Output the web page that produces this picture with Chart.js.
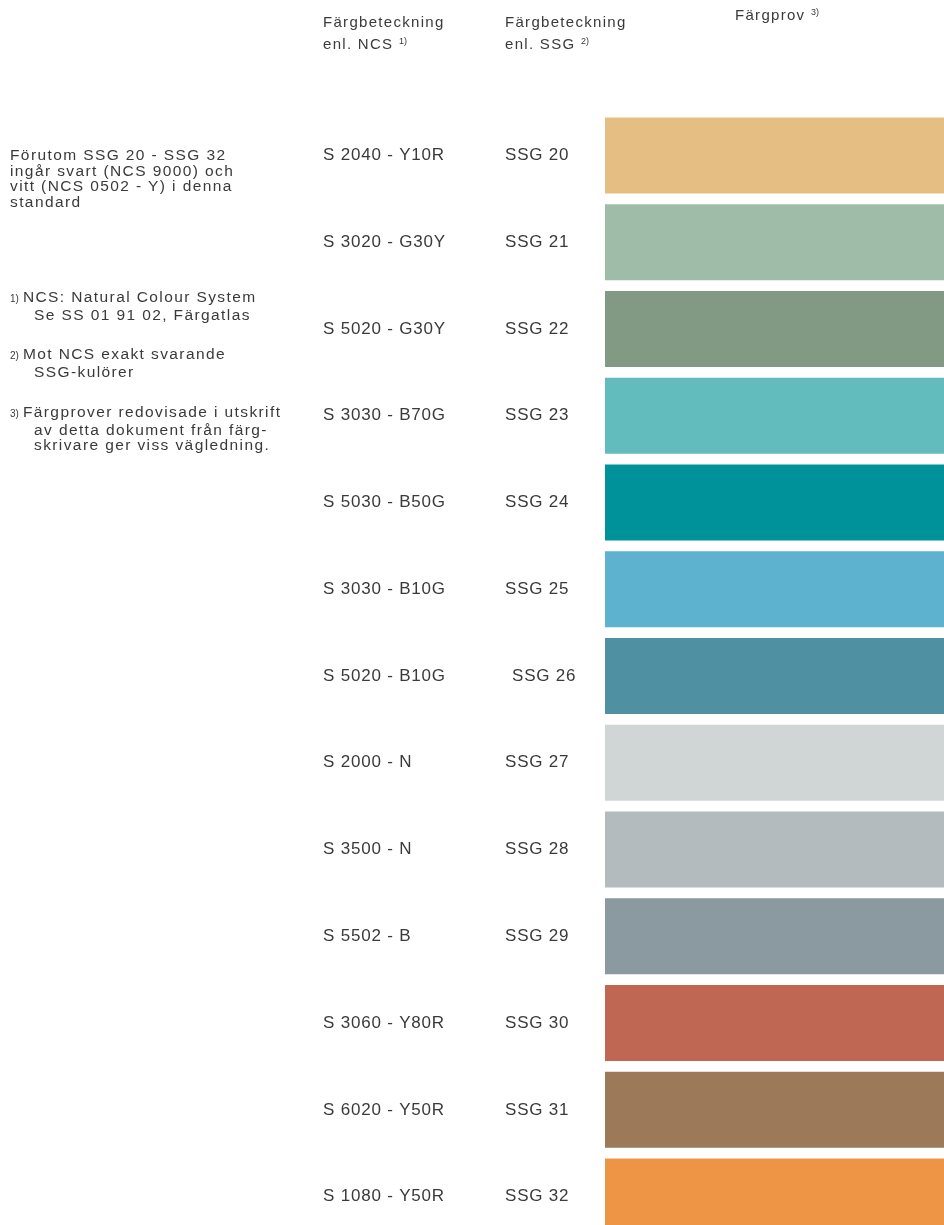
<!DOCTYPE html>
<html lang="sv">
<head>
<meta charset="utf-8">
<script src="https://cdn.jsdelivr.net/npm/chart.js@4"></script>
<style>
  html, body { margin: 0; padding: 0; width: 944px; height: 1225px; overflow: hidden; background: #fff; }
  body { position: relative; font-family: "Liberation Sans", Arial, sans-serif; color: #3a3a3a; }
  #wrap { position: absolute; left: 0; top: 0; width: 944px; height: 1240px; }
  .t { position: absolute; font-size: 15px; line-height: 15.6px; letter-spacing: 1.3px; white-space: nowrap; }
  .n { font-size: 15.5px; letter-spacing: 1.4px; }
  .t sup { font-size: 9px; letter-spacing: 0; vertical-align: 5px; line-height: 0; }
  .fn { font-size: 10px; letter-spacing: 0; margin-right: 4px; }
  .ind { padding-left: 24px; }
</style>
</head>
<body>
<div id="wrap"><canvas id="myChart" width="944" height="1240"></canvas></div>

<div class="t" style="left:323px; top:11px; line-height:22px;">Färgbeteckning<br>enl. NCS <sup>1)</sup></div>
<div class="t" style="left:505px; top:11px; line-height:22px;">Färgbeteckning<br>enl. SSG <sup>2)</sup></div>
<div class="t" style="left:735px; top:7px;">Färgprov <sup>3)</sup></div>

<div class="t n" style="left:10px; top:147px;">Förutom SSG 20 - SSG 32<br>ingår svart (NCS 9000) och<br>vitt (NCS 0502 - Y) i denna<br>standard</div>
<div class="t n" style="left:10px; top:289px;"><span class="fn">1)</span>NCS: Natural Colour System<br><span class="ind">Se SS 01 91 02, Färgatlas</span></div>
<div class="t n" style="left:10px; top:346px;"><span class="fn">2)</span>Mot NCS exakt svarande<br><span class="ind">SSG-kulörer</span></div>
<div class="t n" style="left:10px; top:404px;"><span class="fn">3)</span>Färgprover redovisade i utskrift<br><span class="ind">av detta dokument från färg-</span><br><span class="ind">skrivare ger viss vägledning.</span></div>

<script>
// data
var ssgKoder = ['SSG 20', 'SSG 21', 'SSG 22', 'SSG 23', 'SSG 24', 'SSG 25', 'SSG 26',
                'SSG 27', 'SSG 28', 'SSG 29', 'SSG 30', 'SSG 31', 'SSG 32'];
var ncsKoder = ['S 2040 - Y10R', 'S 3020 - G30Y', 'S 5020 - G30Y', 'S 3030 - B70G', 'S 5030 - B50G',
                'S 3030 - B10G', 'S 5020 - B10G', 'S 2000 - N', 'S 3500 - N', 'S 5502 - B',
                'S 3060 - Y80R', 'S 6020 - Y50R', 'S 1080 - Y50R'];
var fargprov = ['#e5be83', '#9fbca9', '#829a84', '#62bbbd', '#00929a', '#5db3cf', '#5090a3',
                '#d0d5d5', '#b4bbbe', '#8a9aa0', '#c06754', '#9c7958', '#ee9445'];
var varden = [1, 1, 1, 1, 1, 1, 1, 1, 1, 1, 1, 1, 1];

// NCS- och SSG-kolumnerna ritas vid varje rad
var kolumnText = {
    id: 'kolumnText',
    afterDraw: function(chart) {
        var ctx = chart.ctx;
        var y = chart.scales.y;
        ctx.save();
        ctx.font = '17px "Liberation Sans", Arial, sans-serif';
        ctx.letterSpacing = '0.8px';
        ctx.fillStyle = '#3a3a3a';
        ctx.textBaseline = 'middle';
        ctx.textAlign = 'left';
        for (var i = 0; i < ssgKoder.length; i++) {
            var py = y.getPixelForValue(i);
            ctx.fillText(ncsKoder[i], 323, py);
            ctx.fillText(ssgKoder[i], i === 6 ? 512 : 505, py);
        }
        ctx.restore();
    }
};

window.onload = function() {
    var ctx = document.getElementById('myChart').getContext('2d');
    new Chart(ctx, {
        type: 'bar',
        data: {
            labels: ssgKoder,
            datasets: [{
                data: varden,
                backgroundColor: fargprov,
                borderWidth: 0,
                barPercentage: 0.876,
                categoryPercentage: 1
            }]
        },
        options: {
            indexAxis: 'y',
            responsive: false,
            animation: false,
            layout: { padding: { left: 605, top: 112, right: 0, bottom: 0 } },
            plugins: { legend: { display: false }, tooltip: { enabled: false } },
            scales: {
                x: { display: false, min: 0, max: 1 },
                y: { display: false }
            }
        },
        plugins: [kolumnText]
    });
};
</script>
</body>
</html>
